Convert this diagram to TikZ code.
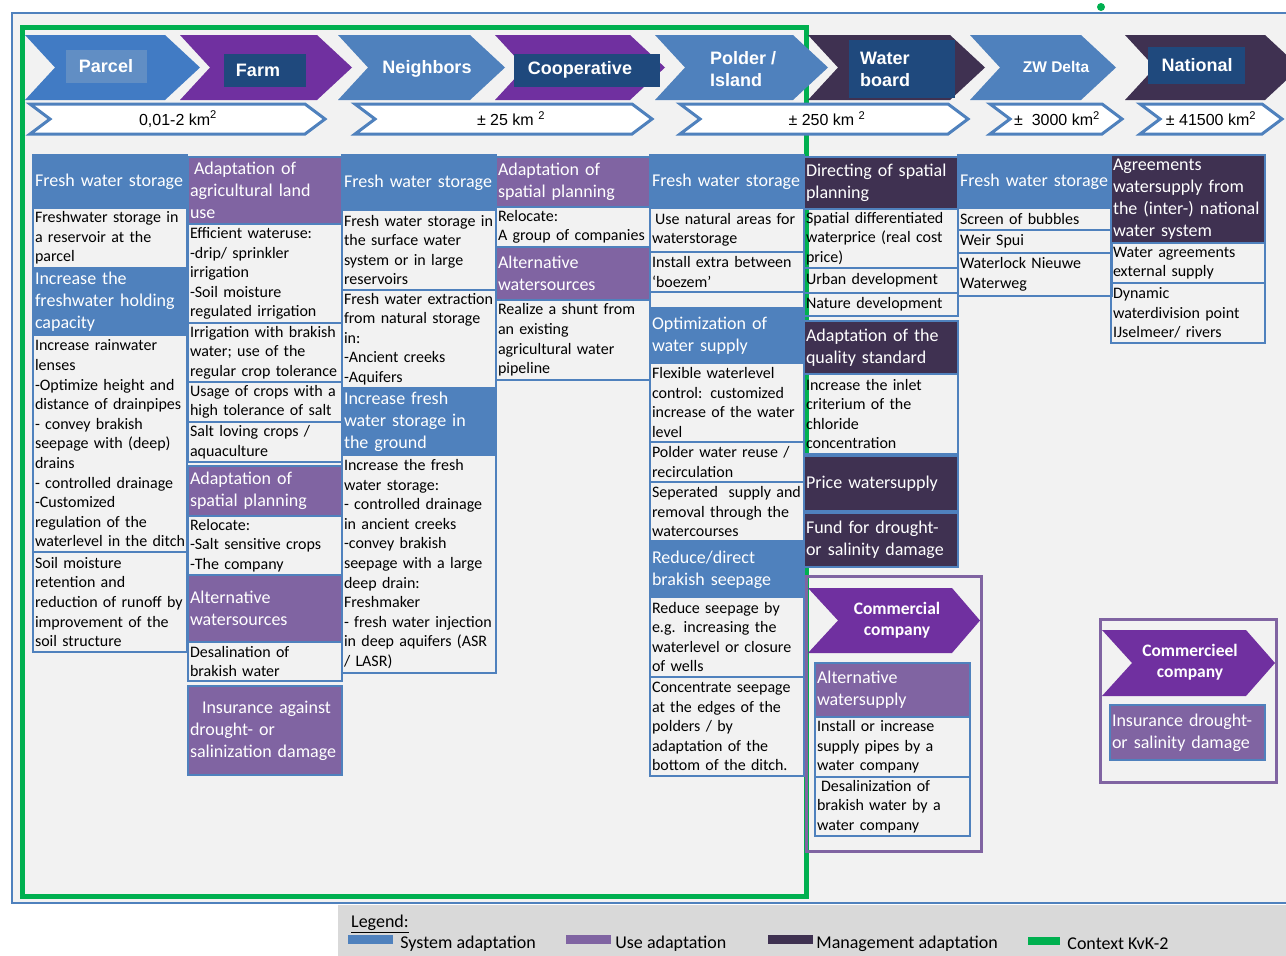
\documentclass[tikz,border=0pt]{standalone}
\usepackage{fontspec}
\setmainfont{Carlito}
\newfontfamily\arialfont{Liberation Sans}
\usetikzlibrary{positioning}

\definecolor{sysblue}{HTML}{4F81BD}
\definecolor{usepurple}{HTML}{8064A2}
\definecolor{mandark}{HTML}{3F3151}
\definecolor{chevpurple}{HTML}{7030A0}
\definecolor{navy}{HTML}{1F497D}
\definecolor{parcelblue}{HTML}{417BC4}
\definecolor{kvkgreen}{HTML}{00B050}
\definecolor{bggray}{HTML}{F2F2F2}
\definecolor{leggray}{HTML}{D9D9D9}

\newcommand{\headfont}{\fontsize{18}{22}\selectfont}
\newcommand{\bodyfont}{\fontsize{16}{19.6}\selectfont}
\newcommand{\tagfont}{\arialfont\bfseries\fontsize{18}{22}\selectfont}

\begin{document}
\begin{tikzpicture}[x=1pt, y=-1pt, node distance=0pt,
	box/.style={draw=sysblue, line width=1.3pt, text width=150pt, inner xsep=2pt, inner ysep=1pt, outer sep=0pt, align=left},
	tall/.style={minimum height=#1pt},
	sys/.style={box, fill=sysblue, text=white, font=\headfont},
	use/.style={box, fill=usepurple, text=white, font=\headfont},
	man/.style={box, fill=mandark, text=white, font=\headfont},
	txt/.style={box, font=\bodyfont},
	tag/.style={text=white, font=\tagfont, inner sep=0pt, align=left},
	tagbox/.style={fill=navy, inner sep=0pt},
	area/.style={font=\arialfont\fontsize{16}{18}\selectfont, inner sep=0pt},
	swatch/.style={minimum width=45pt, minimum height=9pt, inner sep=0pt},
	legtext/.style={font=\fontsize{18}{20}\selectfont, inner sep=0pt}]

\useasboundingbox (0,0) rectangle (1286,956);
\fill[white] (0,0) rectangle (1286,956);
\fill[bggray] (12,13) rectangle (1300,903);
\draw[sysblue, line width=2.5pt] (12,13) rectangle (1300,903);
\fill[kvkgreen] (1101,7) circle (4pt);
\draw[kvkgreen, line width=5pt] (22,27) rectangle (806,896);

% scale chevrons
\foreach \xl/\xr/\col in {25/200/parcelblue, 180/352/chevpurple, 338/505/sysblue, 495/665/chevpurple,
	655/828/sysblue, 808/985/mandark, 970/1116/sysblue, 1125/1300/mandark}
	\fill[\col] (\xl,35) -- (\xr-35,35) -- (\xr,67.5) -- (\xr-35,100) -- (\xl,100) -- (\xl+30,67.5) -- cycle;

\node[tagbox, fill=sysblue!90!white, minimum width=81pt, minimum height=33pt] (parcelbox) at (106,66) {};
\node[tag] (parcel) at (parcelbox) {Parcel};
\node[tagbox, minimum width=82pt, minimum height=33pt] (farmbox) at (265,70) {};
\node[tag] (farm) at (258,70) {Farm};
\node[tag] (neighbors) at (427,69) {Neighbors};
\node[tagbox, minimum width=146pt, minimum height=33pt] (coopbox) at (587,70) {};
\node[tag] (coop) at (580,70) {Cooperative};
\node[tag, anchor=west] (polder) at (710,69) {Polder /\\Island};
\node[tagbox, minimum width=106pt, minimum height=58pt] (wbbox) at (902,69) {};
\node[tag, anchor=west] (waterboard) at (860,69) {Water\\board};
\node[tag, font=\arialfont\bfseries\fontsize{15.5}{18}\selectfont] (zwdelta) at (1056,67) {ZW Delta};
\node[tagbox, minimum width=97pt, minimum height=37pt] (natbox) at (1196,65.5) {};
\node[tag] (national) at (1197,65) {National};

% area chevrons
\foreach \xl/\xr in {30/325, 355/652, 680/968, 990/1122, 1140/1282}
	\draw[sysblue, line width=3pt, fill=white] (\xl,104) -- (\xr-20,104) -- (\xr,119) -- (\xr-20,134) -- (\xl,134) -- (\xl+20,119) -- cycle;
\node[area] (a1) at (178,119) {0,01-2 km\textsuperscript{2}};
\node[area] (a2) at (511,119) {\textpm\ 25 km \textsuperscript{2}};
\node[area] (a3) at (827,119) {\textpm\ 250 km \textsuperscript{2}};
\node[area] (a4) at (1057,119) {\textpm\ \ 3000 km\textsuperscript{2}};
\node[area] (a5) at (1211,119) {\textpm\ 41500 km\textsuperscript{2}};

% parcel
\node[sys, tall=53, anchor=north west] (c1a) at (33,155) {Fresh water storage};
\node[txt, tall=60, below=of c1a] (c1b) {Freshwater storage in\\a reservoir at the\\parcel};
\node[sys, tall=67, below=of c1b] (c1c) {Increase the\\freshwater holding\\capacity};
\node[txt, tall=217, below=of c1c] (c1d) {Increase rainwater\\lenses\\-Optimize height and\\distance of drainpipes\\- convey brakish\\seepage with (deep)\\drains\\- controlled drainage\\-Customized\\regulation of the\\waterlevel in the ditch};
\node[txt, tall=100, below=of c1d] (c1e) {Soil moisture\\retention and\\reduction of runoff by\\improvement of the\\soil structure};

% farm
\node[use, tall=67, anchor=north west] (c2a) at (188,157) {\hspace*{4pt}Adaptation of\\agricultural land\\use};
\node[txt, tall=99, below=of c2a] (c2b) {Efficient wateruse:\\-drip/ sprinkler\\irrigation\\-Soil moisture\\regulated irrigation};
\node[txt, tall=59, below=of c2b] (c2c) {Irrigation with brakish\\water; use of the\\regular crop tolerance};
\node[txt, tall=40, below=of c2c] (c2d) {Usage of crops with a\\high tolerance of salt};
\node[txt, tall=40, below=of c2d] (c2e) {Salt loving crops /\\aquaculture};
\node[use, tall=50, below=4pt of c2e] (c2f) {Adaptation of\\spatial planning};
\node[txt, tall=59, below=of c2f] (c2g) {Relocate:\\-Salt sensitive crops\\-The company};
\node[use, tall=67, below=of c2g] (c2h) {Alternative\\watersources};
\node[txt, tall=39, below=of c2h] (c2i) {Desalination of\\brakish water};
\node[use, tall=89, below=5pt of c2i] (c2j) {\hspace*{12pt}Insurance against\\drought- or\\salinization damage};

% neighbors
\node[sys, tall=55, anchor=north west] (c3a) at (342,155) {Fresh water storage};
\node[txt, tall=80, below=of c3a] (c3b) {Fresh water storage in\\the surface water\\system or in large\\reservoirs};
\node[txt, tall=98, below=of c3b] (c3c) {Fresh water extraction\\from natural storage\\in:\\-Ancient creeks\\-Aquifers};
\node[sys, tall=67, below=of c3c] (c3d) {Increase fresh\\water storage in\\the ground};
\node[txt, tall=218, below=of c3d] (c3e) {Increase the fresh\\water storage:\\- controlled drainage\\in ancient creeks\\-convey brakish\\seepage with a large\\deep drain:\\Freshmaker\\- fresh water injection\\in deep aquifers (ASR\\/ LASR)};

% cooperative
\node[use, tall=50, anchor=north west] (c4a) at (496,157) {Adaptation of\\spatial planning};
\node[txt, tall=40, below=of c4a] (c4b) {Relocate:\\A group of companies};
\node[use, tall=53, below=of c4b] (c4c) {Alternative\\watersources};
\node[txt, tall=80, below=of c4c] (c4d) {Realize a shunt from\\an existing\\agricultural water\\pipeline};

% polder
\node[sys, tall=53, anchor=north west] (c5a) at (650,155) {Fresh water storage};
\node[txt, tall=44, below=of c5a] (c5b) {\hspace*{3pt}Use natural areas for\\waterstorage};
\node[txt, tall=40, below=of c5b] (c5c) {Install extra between\\‘boezem’};
\node[txt, tall=16, below=of c5c] (c5d) {};
\node[sys, tall=55, below=of c5d] (c5e) {Optimization of\\water supply};
\node[txt, tall=79, below=of c5e] (c5f) {Flexible waterlevel\\control: customized\\increase of the water\\level};
\node[txt, tall=40, below=of c5f] (c5g) {Polder water reuse /\\recirculation};
\node[txt, tall=59, below=of c5g] (c5h) {Seperated \ supply and\\removal through the\\watercourses};
\node[sys, tall=54, below=2pt of c5h] (c5i) {Reduce/direct\\brakish seepage};
\node[txt, tall=80, below=of c5i] (c5j) {Reduce seepage by\\e.g. increasing the\\waterlevel or closure\\of wells};
\node[txt, tall=99, below=of c5j] (c5k) {Concentrate seepage\\at the edges of the\\polders / by\\adaptation of the\\bottom of the ditch.};

% water board
\node[man, tall=52, anchor=north west] (c6a) at (804,157) {Directing of spatial\\planning};
\node[txt, tall=59, below=of c6a] (c6b) {Spatial differentiated\\waterprice (real cost\\price)};
\node[txt, tall=25, below=of c6b] (c6c) {Urban development};
\node[txt, tall=23, below=of c6c] (c6d) {Nature development};
\node[man, tall=53, below=5pt of c6d] (c6e) {Adaptation of the\\quality standard};
\node[txt, tall=80, below=of c6e] (c6f) {Increase the inlet\\criterium of the\\chloride\\concentration};
\node[man, tall=55, below=2pt of c6f] (c6g) {Price watersupply};
\node[man, tall=54, below=2pt of c6g] (c6h) {Fund for drought-\\or salinity damage};

% zw delta
\node[sys, tall=53, anchor=north west] (c7a) at (958,155) {Fresh water storage};
\node[txt, tall=22, below=of c7a] (c7b) {Screen of bubbles};
\node[txt, tall=23, below=of c7b] (c7c) {Weir Spui};
\node[txt, tall=43, below=of c7c] (c7d) {Waterlock Nieuwe\\Waterweg};

% national
\node[man, tall=88, anchor=north west] (c8a) at (1111,155) {Agreements\\watersupply from\\the (inter-) national\\water system};
\node[txt, tall=40, below=of c8a] (c8b) {Water agreements\\external supply};
\node[txt, tall=60, below=of c8b] (c8c) {Dynamic\\waterdivision point\\IJselmeer/ rivers};

% commercial companies
\draw[usepurple, line width=3pt] (806,576) rectangle (981,851);
\fill[chevpurple] (808,588) -- (952,588) -- (980,620.5) -- (952,653) -- (808,653) -- (838,620.5) -- cycle;
\node[tag, font=\bfseries\fontsize{17.5}{21}\selectfont, align=center] (comm) at (897,620) {Commercial\\company};
\node[use, tall=54, text width=151pt, anchor=north west] (c9a) at (815,663) {Alternative\\watersupply};
\node[txt, tall=60, text width=151pt, below=of c9a] (c9b) {Install or increase\\supply pipes by a\\water company};
\node[txt, tall=59, text width=151pt, below=of c9b] (c9c) {\hspace*{4pt}Desalinization of\\brakish water by a\\water company};

\draw[usepurple, line width=3pt] (1100,619) rectangle (1276,782);
\fill[chevpurple] (1102,630) -- (1246,630) -- (1275,663) -- (1246,696) -- (1102,696) -- (1132,663) -- cycle;
\node[tag, font=\bfseries\fontsize{17.5}{21}\selectfont, align=center] (commnl) at (1190,662) {Commercieel\\company};
\node[use, tall=55, text width=151pt, anchor=north west] (c10a) at (1110,705) {Insurance drought-\\or salinity damage};

% legend
\fill[leggray] (338,905) rectangle (1300,960);
\node[legtext, anchor=west] (legend) at (351,924) {\underline{Legend:}};
\node[swatch, fill=sysblue] (lsys) at (370.5,939) {};
\node[legtext, right=7pt of lsys, yshift=-5pt] (lsyst) {System adaptation};
\node[swatch, fill=usepurple] (luse) at (588.5,939) {};
\node[legtext, right=4pt of luse, yshift=-5pt] (luset) {Use adaptation};
\node[swatch, fill=mandark] (lman) at (790.5,939) {};
\node[legtext, right=3pt of lman, yshift=-5pt] (lmant) {Management adaptation};
\node[swatch, fill=kvkgreen, minimum width=32pt, minimum height=8pt] (lkvk) at (1044,941) {};
\node[legtext, right=7pt of lkvk, yshift=-3pt] (lkvkt) {Context KvK-2};
\end{tikzpicture}
\end{document}
